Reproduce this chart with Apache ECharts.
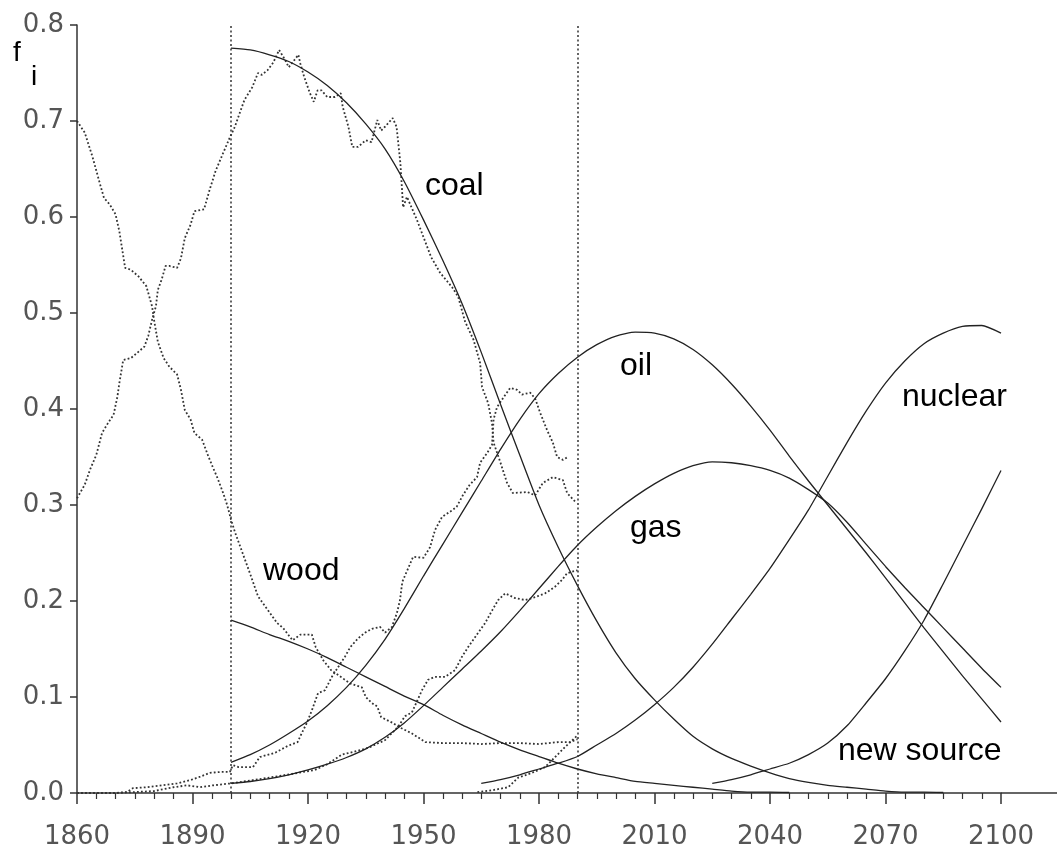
<!DOCTYPE html>
<html>
<head>
<meta charset="utf-8">
<title>Energy substitution</title>
<script src="https://cdn.jsdelivr.net/npm/echarts@6/dist/echarts.min.js"></script>
<style>
  html, body { margin: 0; padding: 0; background: #fff; }
  #chart { width: 1057px; height: 855px; }
</style>
</head>
<body>
<div id="chart"></div>
<script>
const xTicks = [1860, 1890, 1920, 1950, 1980, 2010, 2040, 2070, 2100]
const yTicks = [0, 0.1, 0.2, 0.3, 0.4, 0.5, 0.6, 0.7, 0.8]
const markYears = [1900, 1990]

// model curves, one value per year below
const modelYears = [1900, 1905, 1910, 1915, 1920, 1925, 1930, 1935, 1940, 1945, 1950, 1955, 1960, 1965, 1970, 1975, 1980, 1985, 1990, 1995, 2000, 2005, 2010, 2015, 2020, 2025, 2030, 2035, 2040, 2045, 2050, 2055, 2060, 2065, 2070, 2075, 2080, 2085, 2090, 2095, 2100]
const woodModel = [0.180, 0.173, 0.165, 0.158, 0.150, 0.141, 0.131, 0.121, 0.111, 0.101, 0.092, 0.081, 0.071, 0.062, 0.053, 0.045, 0.038, 0.031, 0.025, 0.020, 0.016, 0.012, 0.010, 0.008, 0.006, 0.004, 0.002, 0.001, 0.001, 0.0005, null, null, null, null, null, null, null, null, null, null, null]
const coalModel = [0.776, 0.774, 0.769, 0.762, 0.751, 0.737, 0.719, 0.697, 0.671, 0.637, 0.597, 0.555, 0.510, 0.459, 0.405, 0.352, 0.300, 0.256, 0.216, 0.179, 0.146, 0.119, 0.097, 0.077, 0.059, 0.046, 0.036, 0.028, 0.021, 0.015, 0.011, 0.008, 0.006, 0.004, 0.002, 0.001, 0.001, 0.0005, null, null, null]
const oilModel = [0.032, 0.040, 0.050, 0.062, 0.075, 0.091, 0.110, 0.133, 0.160, 0.192, 0.226, 0.259, 0.292, 0.325, 0.358, 0.389, 0.416, 0.437, 0.454, 0.467, 0.476, 0.480, 0.479, 0.473, 0.462, 0.446, 0.426, 0.403, 0.378, 0.351, 0.325, 0.300, 0.275, 0.250, 0.224, 0.198, 0.172, 0.147, 0.122, 0.098, 0.074]
const gasModel = [0.010, 0.012, 0.015, 0.019, 0.024, 0.030, 0.037, 0.046, 0.058, 0.073, 0.091, 0.110, 0.129, 0.148, 0.168, 0.190, 0.213, 0.236, 0.258, 0.277, 0.294, 0.309, 0.322, 0.333, 0.341, 0.345, 0.344, 0.341, 0.336, 0.328, 0.316, 0.302, 0.282, 0.259, 0.236, 0.214, 0.193, 0.172, 0.151, 0.130, 0.110]
const nuclearModel = [null, null, null, null, null, null, null, null, null, null, null, null, null, 0.010, 0.014, 0.019, 0.025, 0.031, 0.038, 0.050, 0.062, 0.076, 0.092, 0.110, 0.131, 0.155, 0.181, 0.207, 0.234, 0.264, 0.295, 0.330, 0.365, 0.398, 0.427, 0.450, 0.468, 0.479, 0.486, 0.487, 0.479]
const newSourceModel = [null, null, null, null, null, null, null, null, null, null, null, null, null, null, null, null, null, null, null, null, null, null, null, null, null, 0.010, 0.014, 0.019, 0.025, 0.031, 0.040, 0.052, 0.070, 0.094, 0.119, 0.148, 0.180, 0.218, 0.257, 0.296, 0.336]

// historical shares
const woodYears = [1860, 1862, 1864, 1866, 1867, 1868.5, 1870, 1871, 1872.5, 1874, 1876, 1878, 1879.5, 1880, 1881, 1882.5, 1884, 1886, 1887, 1888, 1889.5, 1890.5, 1892.5, 1894, 1895, 1896.5, 1898, 1899, 1900, 1901, 1903, 1905, 1907, 1909.5, 1912, 1913.5, 1916, 1918, 1921, 1922, 1924, 1926, 1928.5, 1931, 1934, 1935, 1936.5, 1938, 1939, 1942, 1943.5, 1947, 1950.5, 1955, 1960, 1965, 1970, 1975, 1980, 1985, 1988, 1990]
const woodData = [0.700, 0.688, 0.663, 0.634, 0.620, 0.613, 0.603, 0.585, 0.547, 0.545, 0.538, 0.528, 0.507, 0.493, 0.470, 0.453, 0.444, 0.436, 0.420, 0.399, 0.389, 0.375, 0.368, 0.352, 0.342, 0.328, 0.312, 0.300, 0.285, 0.272, 0.250, 0.228, 0.205, 0.191, 0.177, 0.172, 0.159, 0.165, 0.165, 0.152, 0.138, 0.128, 0.121, 0.114, 0.110, 0.100, 0.094, 0.090, 0.079, 0.073, 0.069, 0.062, 0.053, 0.052, 0.052, 0.051, 0.052, 0.052, 0.051, 0.053, 0.053, 0.056]

const coalYears = [1860, 1862, 1863.5, 1865, 1866.5, 1868, 1869.5, 1870.5, 1871, 1872, 1874, 1875.5, 1877.5, 1878.5, 1879.5, 1880.5, 1881, 1882, 1883, 1884, 1886, 1887, 1888, 1889.5, 1890.5, 1893, 1894.5, 1896, 1898, 1899.5, 1901, 1902.5, 1903.5, 1905.5, 1907, 1908, 1909.5, 1911, 1912.5, 1914, 1915, 1916, 1917.5, 1918, 1919, 1920.5, 1921.5, 1922.5, 1923.5, 1925, 1927, 1928.5, 1929, 1930.5, 1931.5, 1933, 1935, 1936.5, 1938, 1939, 1940, 1942, 1943, 1944, 1944.7, 1945.7, 1948.3, 1950, 1952, 1954.3, 1957.4, 1959, 1960.8, 1963, 1964.7, 1965.2, 1966.8, 1967.8, 1968.2, 1970, 1971.7, 1973.2, 1977, 1979, 1981, 1983.6, 1986.2, 1987.3, 1989.5]
const coalData = [0.307, 0.321, 0.338, 0.352, 0.375, 0.385, 0.394, 0.413, 0.427, 0.451, 0.453, 0.458, 0.465, 0.476, 0.493, 0.507, 0.524, 0.535, 0.549, 0.549, 0.547, 0.557, 0.578, 0.592, 0.606, 0.608, 0.629, 0.648, 0.667, 0.681, 0.694, 0.711, 0.722, 0.735, 0.750, 0.748, 0.753, 0.761, 0.774, 0.764, 0.756, 0.761, 0.769, 0.760, 0.746, 0.729, 0.720, 0.732, 0.732, 0.725, 0.725, 0.729, 0.715, 0.694, 0.673, 0.673, 0.680, 0.678, 0.701, 0.690, 0.694, 0.703, 0.694, 0.656, 0.610, 0.621, 0.597, 0.579, 0.558, 0.542, 0.527, 0.517, 0.491, 0.472, 0.448, 0.423, 0.406, 0.385, 0.365, 0.344, 0.323, 0.3125, 0.3135, 0.310, 0.323, 0.329, 0.326, 0.3125, 0.303]

const oilYears = [1860, 1865, 1870, 1873, 1874.5, 1878, 1882, 1886, 1889.5, 1892, 1894.5, 1897.5, 1899.7, 1900.5, 1902, 1905.7, 1907.5, 1911.5, 1914.7, 1917.3, 1918.4, 1919.7, 1921, 1922.6, 1924.4, 1926.2, 1927.8, 1929.6, 1931, 1933, 1934.8, 1936.6, 1938.7, 1940, 1941.8, 1943.1, 1943.9, 1944.5, 1947.3, 1950, 1951.7, 1953, 1954.8, 1956.9, 1958.6, 1960.2, 1962, 1963.9, 1964.7, 1966.5, 1967.8, 1968.2, 1969.1, 1970.6, 1972.5, 1974.3, 1975.6, 1977.7, 1979, 1980.3, 1982.1, 1983.6, 1984.7, 1986.2, 1987.5]
const oilData = [0, 0, 0, 0.001, 0.005, 0.006, 0.008, 0.010, 0.0135, 0.017, 0.021, 0.022, 0.022, 0.029, 0.027, 0.027, 0.0375, 0.042, 0.049, 0.053, 0.0625, 0.073, 0.086, 0.104, 0.107, 0.121, 0.131, 0.142, 0.152, 0.161, 0.167, 0.171, 0.173, 0.167, 0.173, 0.1875, 0.201, 0.220, 0.246, 0.245, 0.256, 0.274, 0.2875, 0.293, 0.298, 0.310, 0.321, 0.329, 0.344, 0.354, 0.3625, 0.389, 0.402, 0.411, 0.422, 0.420, 0.415, 0.417, 0.411, 0.396, 0.378, 0.365, 0.350, 0.347, 0.350]

const gasYears = [1860, 1870, 1880, 1885, 1888.6, 1892, 1895.4, 1900, 1905, 1911.4, 1916, 1921.8, 1925, 1928.8, 1932, 1935.6, 1940, 1943.4, 1945.2, 1947, 1949.6, 1951.2, 1953, 1955.6, 1958.2, 1960, 1961.6, 1964.2, 1966, 1967.8, 1969.4, 1971.2, 1973.8, 1976.4, 1979, 1981.6, 1984.2, 1986, 1987.3, 1990]
const gasData = [0, 0, 0.002, 0.006, 0.008, 0.006, 0.008, 0.010, 0.013, 0.017, 0.020, 0.024, 0.030, 0.040, 0.043, 0.047, 0.055, 0.069, 0.080, 0.084, 0.107, 0.118, 0.121, 0.121, 0.128, 0.142, 0.152, 0.167, 0.177, 0.190, 0.201, 0.208, 0.203, 0.201, 0.204, 0.208, 0.215, 0.222, 0.229, 0.232]

const nuclearYears = [1964, 1968, 1972, 1974.6, 1978.2, 1981.6, 1984.2, 1986.8, 1990]
const nuclearData = [0.001, 0.003, 0.006, 0.016, 0.021, 0.027, 0.0375, 0.048, 0.060]

const labelFont = '"Liberation Sans", Arial, sans-serif'
const tickFont = '"DejaVu Sans", sans-serif'

const pairs = (xs, ys) => xs.map((x, i) => [x, ys[i]])

const modelLine = (name, values) => ({
  name,
  type: 'line',
  data: pairs(modelYears, values),
  smooth: 0.2,
  showSymbol: false,
  connectNulls: false,
  lineStyle: { color: '#222', width: 1.3 },
  z: 3,
})

const dataLine = (name, xs, ys) => ({
  name,
  type: 'line',
  data: pairs(xs, ys),
  showSymbol: false,
  lineStyle: { color: '#333', width: 1.8, type: [1.8, 2.2] },
  z: 2,
})

const chart = echarts.init(document.getElementById('chart'))

chart.setOption({
  animation: false,
  backgroundColor: '#fff',
  grid: { left: 77, right: 56, top: 25, bottom: 62 },
  xAxis: {
    type: 'value',
    min: xTicks[0],
    max: xTicks[xTicks.length - 1],
    interval: 30,
    splitLine: { show: false },
    axisLine: { lineStyle: { color: '#333', width: 1.5 } },
    axisTick: { length: 11, lineStyle: { color: '#333', width: 1.5 } },
    minorTick: { show: true, splitNumber: 6, length: 6, lineStyle: { color: '#333', width: 1.2 } },
    axisLabel: {
      margin: 31,
      fontFamily: tickFont,
      fontSize: 26,
      color: '#555',
      formatter: (v) => String(v),
    },
  },
  yAxis: {
    type: 'value',
    min: yTicks[0],
    max: yTicks[yTicks.length - 1],
    interval: 0.1,
    splitLine: { show: false },
    axisLine: { show: true, lineStyle: { color: '#333', width: 1.5 } },
    axisTick: { show: true, length: 7, lineStyle: { color: '#333', width: 1.5 } },
    axisLabel: {
      margin: 13,
      fontFamily: tickFont,
      fontSize: 26,
      color: '#555',
      formatter: (v) => v.toFixed(1),
    },
  },
  graphic: [
    { type: 'line', shape: { x1: 1001, y1: 793, x2: 1057, y2: 793 }, style: { stroke: '#333', lineWidth: 1.5 } },
    { type: 'text', x: 13, y: 53, style: { text: 'f', font: '28px ' + labelFont, fill: '#000', verticalAlign: 'middle' } },
    { type: 'text', x: 31, y: 77, style: { text: 'i', font: '28px ' + labelFont, fill: '#000', verticalAlign: 'middle' } },
    { type: 'text', x: 425, y: 186, style: { text: 'coal', font: '32px ' + labelFont, fill: '#000', verticalAlign: 'middle' } },
    { type: 'text', x: 620, y: 366, style: { text: 'oil', font: '32px ' + labelFont, fill: '#000', verticalAlign: 'middle' } },
    { type: 'text', x: 902, y: 397, style: { text: 'nuclear', font: '32px ' + labelFont, fill: '#000', verticalAlign: 'middle' } },
    { type: 'text', x: 630, y: 528, style: { text: 'gas', font: '32px ' + labelFont, fill: '#000', verticalAlign: 'middle' } },
    { type: 'text', x: 263, y: 571, style: { text: 'wood', font: '32px ' + labelFont, fill: '#000', verticalAlign: 'middle' } },
    { type: 'text', x: 838, y: 751, style: { text: 'new source', font: '32px ' + labelFont, fill: '#000', verticalAlign: 'middle' } },
  ],
  series: [
    {
      ...dataLine('wood data', woodYears, woodData),
      markLine: {
        silent: true,
        symbol: 'none',
        label: { show: false },
        lineStyle: { color: '#333', width: 1.5, type: [2, 2.5] },
        data: markYears.map((y) => ({ xAxis: y })),
      },
    },
    dataLine('coal data', coalYears, coalData),
    dataLine('oil data', oilYears, oilData),
    dataLine('gas data', gasYears, gasData),
    dataLine('nuclear data', nuclearYears, nuclearData),
    modelLine('wood', woodModel),
    modelLine('coal', coalModel),
    modelLine('oil', oilModel),
    modelLine('gas', gasModel),
    modelLine('nuclear', nuclearModel),
    modelLine('new source', newSourceModel),
  ],
})
</script>
</body>
</html>
